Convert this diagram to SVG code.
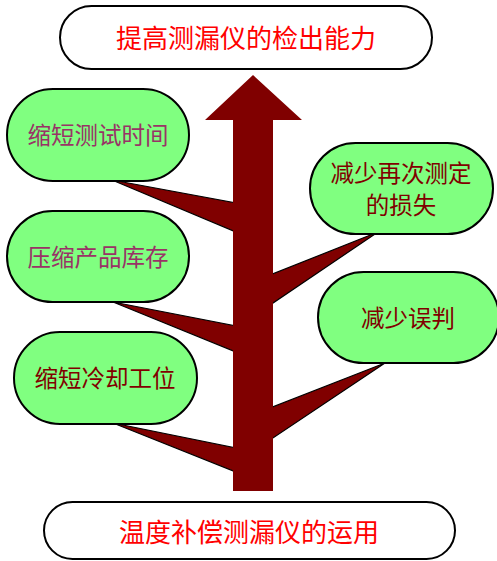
<svg xmlns="http://www.w3.org/2000/svg" width="497" height="561" viewBox="0 0 497 561">
<style>
.pill{fill:#ffffff;stroke:#000000;stroke-width:2}
.bub{fill:#80ff80;stroke:#000000;stroke-width:2}
.br{fill:#800000;stroke:#000000;stroke-width:1.2;stroke-linejoin:miter}
.t{font-family:"Noto Sans CJK SC","Noto Sans CJK JP",sans-serif;text-anchor:middle;dominant-baseline:central}
.big{font-size:26px;fill:#ff0000}
.sm{font-size:23.5px}
.mauve{fill:#993366}
.dr{fill:#800000}
</style>
<rect width="497" height="561" fill="#ffffff"/>
<g id="connectors">
<polygon class="br" points="112,180 236,203 236,232"/>
<polygon class="br" points="113,302 236,326 236,352"/>
<polygon class="br" points="113,423 236,448 236,472"/>
<polygon class="br" points="378,232 270,275 270,305"/>
<polygon class="br" points="385,363 270,408 270,440"/>
<polygon id="trunk" fill="#800000" points="253,75 302,120 273,120 273,491 233,491 233,120 205,120"/>
</g>
<g id="goal">
<rect class="pill" x="60" y="6" width="372" height="63" rx="31.5"/>
<text class="t big" x="246" y="36">提高测漏仪的检出能力</text>
</g>
<g id="base">
<rect class="pill" x="44" y="502" width="411" height="57" rx="28.5"/>
<text class="t big" x="249" y="530">温度补偿测漏仪的运用</text>
</g>
<g id="n1">
<rect class="bub" x="7" y="89" width="182" height="92" rx="46"/>
<text class="t sm mauve" x="98" y="134">缩短测试时间</text>
</g>
<g id="n2">
<rect class="bub" x="7" y="211" width="182" height="91" rx="45.5"/>
<text class="t sm mauve" x="98" y="256">压缩产品库存</text>
</g>
<g id="n3">
<rect class="bub" x="14" y="332" width="183" height="92" rx="46"/>
<text class="t sm dr" x="105" y="377">缩短冷却工位</text>
</g>
<g id="n4">
<rect class="bub" x="310" y="143" width="183" height="91" rx="45.5"/>
<text class="t sm dr" x="401" y="172">减少再次测定</text>
<text class="t sm dr" x="401" y="204">的损失</text>
</g>
<g id="n5">
<rect class="bub" x="318" y="272" width="181" height="91" rx="45.5"/>
<text class="t sm dr" x="408" y="317">减少误判</text>
</g>
</svg>
